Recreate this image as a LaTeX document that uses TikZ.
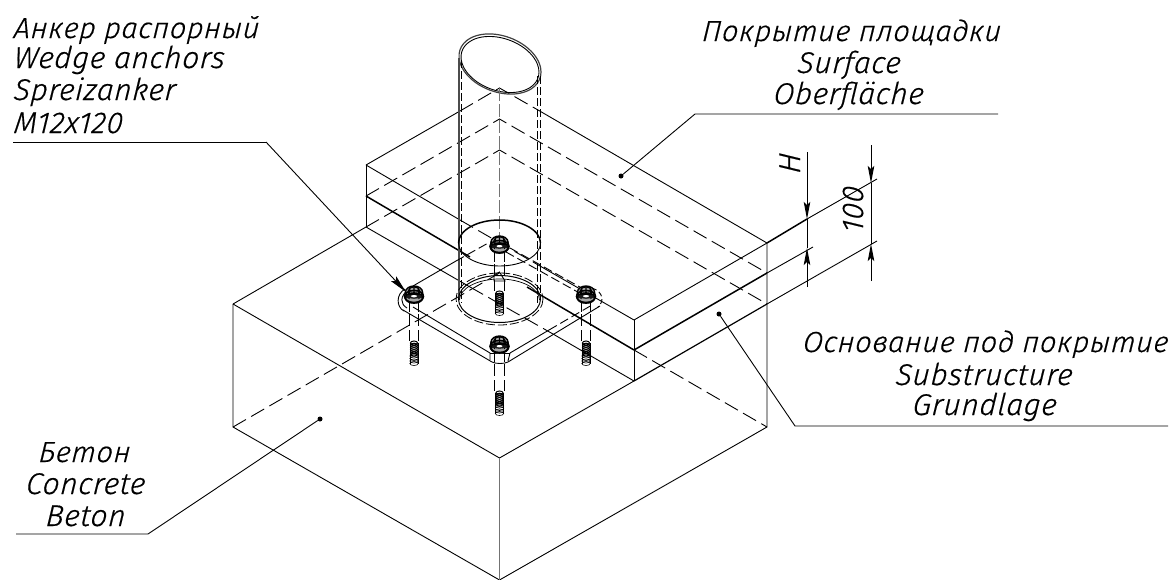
\documentclass[tikz,border=0pt]{standalone}
\usepackage{fontspec}
\newfontfamily\isofont{Fira Sans}[UprightFont=* Light Italic,LetterSpace=2,FakeSlant=0.1,FakeBold=0.5]
\usetikzlibrary{arrows.meta}
\tikzset{
  x=1pt,y=-1pt,
  thinl/.style={line width=0.9pt,black},
  thickl/.style={line width=1.5pt,black},
  hid/.style={line width=0.9pt,black,dash pattern=on 15pt off 6pt},
  hidf/.style={line width=0.8pt,black,dash pattern=on 8pt off 3pt},
  greyl/.style={line width=1.3pt,black!55},
  lbl/.style={font=\isofont\fontsize{30}{30}\selectfont,inner sep=0pt,anchor=base,text=black},
  lblc/.style={font=\isofont\fontsize{29}{29}\selectfont,inner sep=0pt,anchor=base,text=black},
  lblw/.style={lbl,anchor=base west},
  leaderdot/.style={circle,fill=black,minimum size=5pt,inner sep=0pt},
  dimtip/.style={-{Stealth[length=17pt,width=6.5pt,inset=3pt]}},
  nutpic/.pic={
    \fill[black!35] (0,0) ellipse (9.5 and 9);
    \draw[line width=1.1pt] (0,-3.5) ellipse (6 and 4.5);
    \draw[line width=1.4pt] (0,-3) ellipse (8.5 and 6);
    \draw[line width=1.5pt] (0,1.5) ellipse (9.5 and 6);
    \draw[line width=1.7pt] (0,3) ellipse (8.5 and 5);
    \draw[line width=1.1pt] (-8.5,-3) -- (-9.5,2) (8.5,-3) -- (9.5,2) (-4,-8) -- (-5,4) (4,-8) -- (5,4) (0,-9) -- (0,-3);
    \fill[black!90] (-8,3) arc[start angle=180,end angle=360,x radius=8,y radius=5] -- cycle;
    \draw[line width=1.1pt] (-6,-1) -- (6,-1);
    \fill[white] (0,1.2) ellipse (3 and 1.2);
  },
  threadpic/.pic={
    \foreach \i in {0,2.2,...,12}{\draw[line width=1pt] (0,\i) ellipse (3.6 and 2);}
    \foreach \i in {13,15.5,18,20.5}{\draw[line width=0.6pt] (0,\i) ellipse (4.2 and 2);}
    \draw[line width=0.6pt] (-4.2,0) -- (-4.2,20.5) (4.2,0) -- (4.2,20.5);
  },
  boltpic/.pic={
    \draw[thinl] (-4.7,8) -- (-4.7,17) (4.7,8) -- (4.7,17);
    \draw[hidf,dash pattern=on 12pt off 4pt] (-4.7,19) -- (-4.7,46) (4.7,19) -- (4.7,46);
    \pic at (0,48) {threadpic};
  },
}
\begin{document}
\begin{tikzpicture}
\useasboundingbox (0,0) rectangle (1171,579);
% corners
\coordinate (A) at (499.5,88);  \coordinate (B) at (499.5,119); \coordinate (C) at (499.5,150);
\coordinate (L1) at (366,165);  \coordinate (L2) at (366,196);  \coordinate (L3) at (366,227);
\coordinate (R1) at (767,243);  \coordinate (R2) at (767,273);  \coordinate (R3) at (767,304);
\coordinate (F1) at (634,320);  \coordinate (F2) at (634,350);  \coordinate (F3) at (634,381);
\coordinate (PL) at (233,304);  \coordinate (PB) at (233,427);  \coordinate (PF) at (499.5,458);
\coordinate (PG) at (499.5,580);\coordinate (PR) at (767,427);  \coordinate (HH) at (499.5,273);
% breaks
\coordinate (a1) at (460,111);  \coordinate (a2) at (538,110);
\coordinate (b1) at (460,220);  \coordinate (b2) at (540,266);
\coordinate (c1) at (470,257);  \coordinate (c2) at (527,287);
\coordinate (d1) at (470,287);  \coordinate (d2) at (553,334);
\coordinate (e1) at (807,219);  \coordinate (e2) at (877,179);
\coordinate (e3) at (813,247);  \coordinate (e4) at (877,241);
% concrete block
\draw[thinl] (PL) -- (PB) -- (PG) -- (PR) -- (R1);
\draw[thinl] (PL) -- (PF) -- (F3);
\draw[thinl] (PL) -- (L3);
\draw[greyl] (PF) -- (PG);
\draw[hid] (PB) -- (HH);
\draw[hid] (F2) -- (PR);
% slab
\draw[thinl] (L1) -- (L3);
\draw[thinl] (F1) -- (F3);
\draw[thinl] (L1) -- (a1);
\draw[hid] (a1) -- (A) -- (a2);
\draw[thinl] (a2) -- (R1);
\draw[hid] (L2) -- (B) -- (R2);
\draw[hid] (L3) -- (C) -- (R3);
\draw[thinl] (L1) -- (b1);
\draw[hid] (b1) -- (b2);
\draw[thinl] (b2) -- (F1);
\draw[thickl] (L2) -- (c1);
\draw[thickl] (c2) -- (F2);
\draw[thinl] (L3) -- (d1);
\draw[hid] (d1) -- (d2);
\draw[thinl] (d2) -- (F3);
\draw[thinl] (F1) -- (R1);
\draw[thickl] (F2) -- (R2);
\draw[line width=1.2pt] (F3) -- (R3);
\draw[thickl] (R1) -- (e1);
\draw[thinl] (e1) -- (e2);
\draw[thinl] (R2) -- (e3);
\draw[thinl] (R3) -- (e4);
% tube
\draw[line width=1.2pt,black!75] plot[smooth cycle,domain=0:352,samples=45,variable=\t] ({500+41*cos(\t)},{64+8*cos(\t)+29*sin(\t)});
\draw[line width=0.9pt] plot[smooth cycle,domain=0:352,samples=45,variable=\t] ({500+39*cos(\t)},{64.5+7.6*cos(\t)+27*sin(\t)});
\draw[line width=1.1pt,black!70] (459,58) -- (459,300);
\draw[hidf] (461.5,60) -- (461.5,303);
\draw[hidf] (537.5,76) -- (537.5,303);
\draw[hidf] (540.5,76) -- (540.5,300);
\draw[line width=1.2pt,black!55,dash pattern=on 13pt off 3pt] (A) -- (499.5,236);
\draw[thinl] (458.5,243) arc[start angle=180,end angle=0,x radius=41,y radius=23];
\draw[thickl] (458.5,243) arc[start angle=180,end angle=360,x radius=41,y radius=23];
% lower ring
\draw[line width=1pt] (499.5,299) ellipse (41 and 23.5);
\draw[line width=0.7pt] (459.5,300) arc[start angle=180,end angle=360,x radius=40,y radius=21];
\draw[hidf,dash pattern=on 9pt off 3pt] (499.5,299) ellipse (43.5 and 26);
% plate
\draw[thinl] (413,307) -- (490,353) -- (490,360);
\draw[thinl] (403,310) -- (492,362) .. controls (496,364) and (504,364) .. (508,362) -- (600,306);
\draw[thinl] (510,353) -- (508,361);
\draw[thinl] (490,353) -- (510,353);
\draw[thinl] (510,353) -- (549,330);
\draw[hid,dash pattern=on 9pt off 4pt] (549,330) -- (592,305);
\draw[thinl] (404,311) .. controls (396,307) and (396,294) .. (405,289);
\draw[thinl] (407,308) .. controls (400,304) and (400,296) .. (408,290);
\draw[thinl] (413,286) -- (456,261);
\draw[hid,dash pattern=on 9pt off 4pt] (456,261) -- (490,242);
\draw[hid,dash pattern=on 9pt off 4pt] (510,248) -- (596,296);
\draw[hid,dash pattern=on 9pt off 4pt] (506,252) -- (592,300);
\draw[hid,dash pattern=on 5pt off 3pt] (592,288) .. controls (604,292) and (604,302) .. (598,307);
% little triangle on the hidden corner
\draw[thinl] (494,281) -- (494,275) -- (499.5,272) -- (505,281) -- cycle;
% bolts
\pic at (414,295) {boltpic};
\pic at (586,295) {boltpic};
\pic at (499.5,345) {boltpic};
\pic at (499.5,245) {boltpic};
\pic at (499.5,245) {nutpic};
\pic at (414,295) {nutpic};
\pic at (586,295) {nutpic};
\pic at (499.5,345) {nutpic};
% labels
\node[lblc,anchor=base west] (t1) at (13,38) {Анкер распорный};
\node[lblw] (t2) at (13,68) {Wedge anchors};
\node[lblw] (t3) at (13,100) {Spreizanker};
\node[lblw] (t4) at (13,133) {M12x120};
\node[lblc] (t5) at (851,41) {Покрытие площадки};
\node[lbl] (t6) at (848.5,73) {Surface};
\node[lbl] (t7) at (848,104) {Oberfläche};
\node[lblc] (t8) at (985,352) {Основание под покрытие};
\node[lbl] (t9) at (983.5,385) {Substructure};
\node[lbl] (t10) at (984,415) {Grundlage};
\node[lblc] (t11) at (84,462) {Бетон};
\node[lbl] (t12) at (85,494) {Concrete};
\node[lbl] (t13) at (85,526) {Beton};
\node[lbl,rotate=90] (t14) at (800,164) {H};
\node[lbl,rotate=90] (t15) at (863,210) {100};
% leaders
\coordinate (k1) at (13,142); \coordinate (k2) at (266,142); \coordinate (k3) at (406,292);
\draw[thinl] (k1) -- (k2);
\draw[thinl,-{Stealth[length=18pt,width=7pt,inset=3pt]}] (k2) -- (k3);
\node[leaderdot] (s1) at (621,176) {};
\coordinate (s2) at (695,114); \coordinate (s3) at (998,114);
\draw[thinl] (s1) -- (s2) -- (s3);
\node[leaderdot] (g1) at (719,314) {};
\coordinate (g2) at (795,426); \coordinate (g3) at (1168,426);
\draw[thinl] (g1) -- (g2) -- (g3);
\node[leaderdot] (b0) at (320,419) {};
\coordinate (b2x) at (148,534); \coordinate (b3) at (16,534);
\draw[thinl] (b0) -- (b2x) -- (b3);
% dimensions
\coordinate (h1) at (807,152); \coordinate (h2) at (807,219); \coordinate (h3) at (807,287); \coordinate (h4) at (807,248);
\coordinate (n1) at (871,145); \coordinate (n2) at (871,183); \coordinate (n3) at (871,281); \coordinate (n4) at (871,244);
\draw[thinl,dimtip] (h1) -- (h2);
\draw[thinl,dimtip] (h3) -- (h4);
\draw[thinl] (h2) -- (h4);
\draw[thinl,dimtip] (n1) -- (n2);
\draw[thinl,dimtip] (n3) -- (n4);
\draw[thinl] (n2) -- (n4);
\end{tikzpicture}
\end{document}
